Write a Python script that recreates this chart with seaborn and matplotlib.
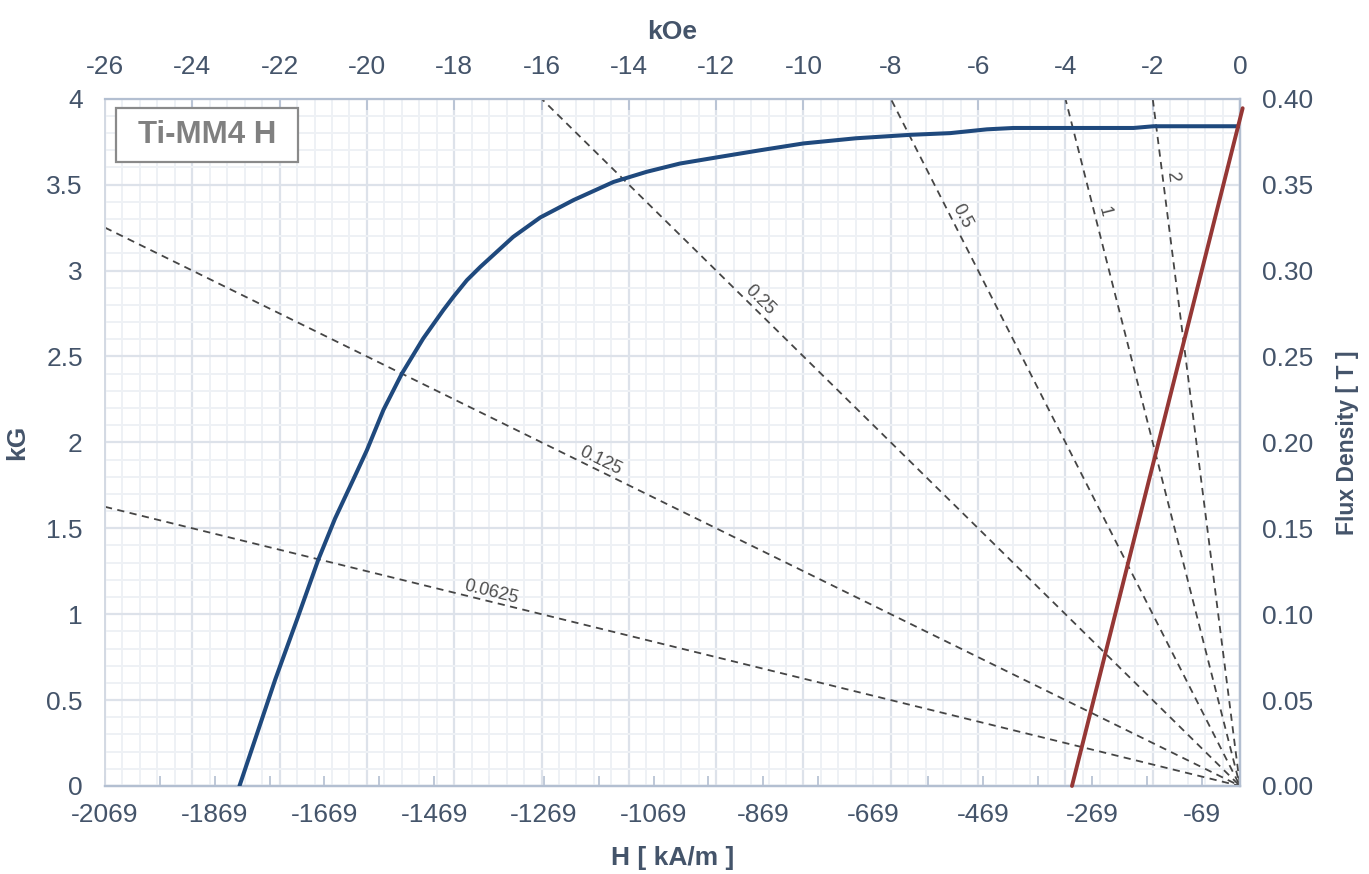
import numpy as np
import matplotlib
matplotlib.use("Agg")
import matplotlib.pyplot as plt
from matplotlib.patches import Rectangle
from matplotlib.ticker import MultipleLocator, FixedLocator, FuncFormatter
import seaborn as sns

# ==========================================
# DATA
# ==========================================
# Demagnetisation curve, H in kOe, B in kG
CURVE_H = [-22.92, -22.1, -21.6, -21.11, -20.73, -20.31, -20.0, -19.62, -19.2,
           -18.71, -18.25, -18.02, -17.71, -17.4, -16.65, -16.03, -15.27, -14.35,
           -13.59, -12.83, -11.91, -11.0, -10.0, -8.8, -7.56, -6.64, -5.8, -5.19,
           -3.97, -2.9, -2.44, -1.98, 0.0]
CURVE_B = [0.0, 0.62, 0.97, 1.32, 1.557, 1.785, 1.955, 2.19, 2.40,
           2.605, 2.77, 2.847, 2.944, 3.022, 3.196, 3.309, 3.41, 3.516,
           3.575, 3.623, 3.662, 3.70, 3.74, 3.77, 3.79, 3.80, 3.822, 3.83,
           3.83, 3.83, 3.83, 3.84, 3.84]

# Recoil line
RECOIL_H = [-3.85, 0.06]
RECOIL_B = [0.0, 3.945]

# Permeance (load) lines B/H and where their labels sit (kOe)
PERMEANCE = [0.0625, 0.125, 0.25, 0.5, 1, 2]
LABEL_H = [-17.2, -14.74, -11.15, -6.58, -3.33, -1.77]

KOE_TICKS = list(range(-26, 1, 2))
KAM_TICKS = list(range(-2069, 0, 200))
KAM_MINOR = list(range(-1969, 0, 200))
T_TICKS = [0.0, 0.05, 0.10, 0.15, 0.20, 0.25, 0.30, 0.35, 0.40]

KOE_TO_KAM = 79.5775
MATERIAL = "Ti-MM4 H"

# ==========================================
# STYLE
# ==========================================
TXT = "#44546a"
SPINE = "#b3bfd1"
GRID_MAJ = "#dde2ea"
GRID_MIN = "#eef1f5"
BLUE = "#1f497d"
RED = "#953735"
DASH = "#454545"
FS = 19

sns.set_theme(style="white")
plt.rcParams["font.family"] = ["Liberation Sans", "DejaVu Sans"]
plt.rcParams["axes.unicode_minus"] = False


def main():
    fig, ax = plt.subplots(figsize=(13.69, 8.74), dpi=100)
    fig.subplots_adjust(left=0.0767, right=0.9058, bottom=0.1007, top=0.887)
    ax.set_xlim(-26, 0)
    ax.set_ylim(0, 4)

    # grid
    ax.xaxis.set_major_locator(FixedLocator(KOE_TICKS))
    ax.xaxis.set_minor_locator(MultipleLocator(0.4))
    ax.yaxis.set_major_locator(MultipleLocator(0.5))
    ax.yaxis.set_minor_locator(MultipleLocator(0.1))
    ax.grid(which="minor", color=GRID_MIN, lw=1.4, zorder=0)
    ax.grid(which="major", color=GRID_MAJ, lw=1.6, zorder=0)
    ax.set_axisbelow(True)

    # load lines, all starting at the origin
    for p in PERMEANCE:
        sns.lineplot(x=[-26, 0], y=[26 * p, 0], ax=ax, color=DASH, lw=1.3,
                     linestyle=(0, (4, 3)), marker="<", markevery=[1], ms=9,
                     mec=DASH, zorder=2)

    # curves
    sns.lineplot(x=CURVE_H, y=CURVE_B, ax=ax, color=BLUE, lw=2.9, zorder=4, sort=False)
    sns.lineplot(x=RECOIL_H, y=RECOIL_B, ax=ax, color=RED, lw=2.8, zorder=5, clip_on=False)

    # permeance labels, rotated along each line
    for p, lh in zip(PERMEANCE, LABEL_H):
        x0, y0 = lh, -p * lh
        a = ax.transData.transform((x0, y0))
        b = ax.transData.transform((x0 + 1, -p * (x0 + 1)))
        ang = np.degrees(np.arctan2(b[1] - a[1], b[0] - a[0]))
        nx, ny = -np.sin(np.radians(ang)), np.cos(np.radians(ang))
        ax.annotate(f"{p:g}", xy=(x0, y0), xytext=(7 * nx, 7 * ny),
                    textcoords="offset points", rotation=ang, rotation_mode="anchor",
                    ha="center", va="center", fontsize=13, color="#4d4d4d", zorder=3)

    # top axis: kOe
    ax.xaxis.set_ticks_position("top")
    ax.xaxis.set_label_position("top")
    ax.tick_params(axis="x", which="major", direction="in", length=8, width=1.2,
                   color=SPINE, labelsize=FS, labelcolor=TXT, pad=14,
                   top=True, bottom=False, labeltop=True, labelbottom=False)
    ax.tick_params(axis="x", which="minor", length=0)
    ax.set_xlabel("kOe", fontsize=FS, fontweight="bold", color=TXT, labelpad=12)

    # left axis: kG
    ax.yaxis.set_major_formatter(FuncFormatter(lambda v, _: f"{v:g}"))
    ax.tick_params(axis="y", which="both", length=0, labelsize=FS, labelcolor=TXT, pad=16)
    ax.set_ylabel("kG", fontsize=FS, fontweight="bold", color=TXT, labelpad=12)

    for side in ["top", "bottom", "right"]:
        ax.spines[side].set_color(SPINE)
        ax.spines[side].set_linewidth(1.6)
    ax.spines["left"].set_color("#d3d9e3")
    ax.spines["left"].set_linewidth(1.4)

    # bottom axis: kA/m
    secx = ax.secondary_xaxis("bottom", functions=(lambda h: h * KOE_TO_KAM,
                                                   lambda k: k / KOE_TO_KAM))
    secx.set_xticks(KAM_TICKS)
    secx.xaxis.set_minor_locator(FixedLocator(KAM_MINOR))
    secx.xaxis.set_major_formatter(FuncFormatter(lambda v, _: f"{v:.0f}"))
    secx.tick_params(which="both", direction="in", length=7, width=1.2, color=SPINE,
                     labelsize=FS, labelcolor=TXT, pad=12)
    secx.spines["bottom"].set_color(SPINE)
    secx.spines["bottom"].set_linewidth(1.6)
    secx.set_xlabel("H [ kA/m ]", fontsize=FS, fontweight="bold", color=TXT, labelpad=14)

    # right axis: Tesla
    secy = ax.secondary_yaxis("right", functions=(lambda b: b / 10, lambda t: t * 10))
    secy.set_yticks(T_TICKS)
    secy.yaxis.set_minor_locator(MultipleLocator(0.01))
    secy.yaxis.set_major_formatter(FuncFormatter(lambda v, _: f"{v:.2f}"))
    secy.tick_params(which="both", direction="in", length=7, width=1.2, color=SPINE,
                     labelsize=FS, labelcolor=TXT, pad=16)
    secy.spines["right"].set_color(SPINE)
    secy.spines["right"].set_linewidth(1.6)
    secy.set_ylabel("Flux Density [ T ]", fontsize=16.5, fontweight="bold", color=TXT,
                    labelpad=16)

    # material tag
    ax.add_patch(Rectangle((0.0097, 0.9078), 0.1604, 0.0786, transform=ax.transAxes,
                           facecolor="white", edgecolor="#8a8a8a", lw=1.6, zorder=6))
    ax.text(0.0899, 0.947, MATERIAL, transform=ax.transAxes, ha="center", va="center",
            fontsize=22.5, fontweight="bold", color="#808080", zorder=7)

    fig.savefig("out.png", dpi=100)


if __name__ == "__main__":
    main()
